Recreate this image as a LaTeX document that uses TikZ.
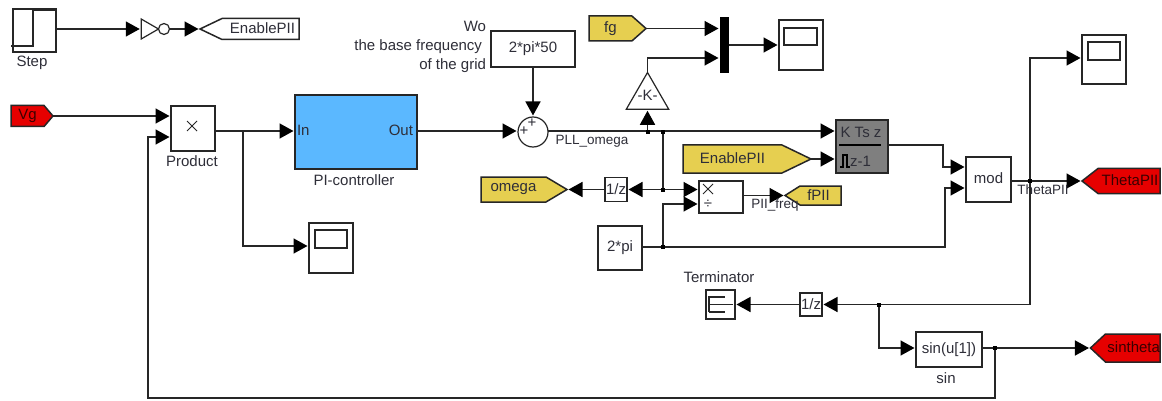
\documentclass[tikz,border=0pt]{standalone}
\usepackage{fontspec}
\setmainfont{Liberation Sans}
\usetikzlibrary{arrows.meta,shapes.geometric,shapes.symbols}
\definecolor{ln}{HTML}{262626}
\definecolor{txt}{HTML}{2E2E38}
\definecolor{simred}{HTML}{E60000}
\definecolor{simgold}{HTML}{E6CF50}
\definecolor{simblue}{HTML}{5BB8FF}
\definecolor{simgray}{HTML}{7F7F7F}
\tikzset{
  every node/.style={font=\fontsize{15}{19}\selectfont,text=txt,inner sep=0pt,outer sep=0pt},
  wire/.style={draw=ln,line width=1.5pt},
  thin wire/.style={draw=ln,line width=1pt},
  arr/.style={wire,-{Triangle[length=14pt,width=15pt,color=black,fill=black]},shorten >=1.5pt},
  blk/.style={draw=ln,line width=1.5pt,fill=white,rectangle,minimum width=#1},
  tag/.style={draw=ln,line width=1.5pt,signal,signal from=nowhere},
  redtag/.style={tag,fill=simred,text=black!75!simred},
  goldtag/.style={tag,fill=simgold},
  whitetag/.style={tag,fill=white},
  dot/.style={fill=black,rectangle,minimum size=4pt},
  lbl/.style={text=txt},
  sig/.style={font=\fontsize{13.5}{16}\selectfont,text=txt}
}
\begin{document}
\begin{tikzpicture}[x=1pt,y=-1pt]
\useasboundingbox[fill=white] (0,0) rectangle (1162,401);

% Step source
\node[blk=43pt,minimum height=43pt] (step) at (34.5,30.5) {};
\draw[wire] (11,46) -- (33,46) -- (33,10) -- (55,10);
\node[lbl] (stepl) at (32,63) {Step};
% NOT
\node[draw=ln,line width=1.2pt,regular polygon,regular polygon sides=3,shape border rotate=-90,minimum size=23pt,fill=white] (inv) at (147,29) {};
\node[draw=ln,line width=1.2pt,circle,minimum size=11pt,fill=white] (invc) at (164,29) {};
\node[whitetag,signal to=west,signal pointer angle=51,minimum width=99pt,minimum height=21pt,anchor=east] (enA) at (299,29) {\hspace{4pt}\raisebox{1pt}{EnablePII}};
\draw[arr] (step.east |- inv.west) -- (inv.west);
\draw[arr] (invc.east) -- (enA.west);

% Vg and product
\node[redtag,signal to=east,signal pointer angle=99,minimum width=42pt,minimum height=21pt,anchor=west] (vg) at (11,116) {\raisebox{1pt}{Vg}};
\node[blk=44pt,minimum height=45pt] (prod) at (193,128.5) {};
\draw[thin wire] (187,121) -- (197,131) (187,131) -- (197,121);
\node[lbl] (prodl) at (192,161) {Product};
\coordinate (prodB) at (171,137);
\draw[arr] (vg.east) -- (prod.west |- vg.east);

% PI controller
\node[blk=122pt,minimum height=74pt,fill=simblue] (pi) at (356,132) {};
\node[lbl,anchor=west] (piin) at (297,130) {In};
\node[lbl,anchor=east] (piout) at (413,130) {Out};
\node[lbl] (pil) at (354,180) {PI-controller};
\draw[arr] (prod.east |- 0,131) -- (pi.west |- 0,131);
\coordinate (jp) at (243,131);

% Scope lower left
\node[blk=44pt,minimum height=50pt] (sc2) at (331,248) {};
\node[draw=ln,line width=1.6pt,minimum width=32pt,minimum height=18pt] (sc2i) at (331,239) {};
\draw[arr] (jp) -- (243,246) -- (sc2.west |- 0,246);

% Sum
\node[draw=ln,line width=1.2pt,circle,minimum size=30pt,fill=white] (sum) at (533,132) {};
\node (sp1) at (532,123) {+};
\node (sp2) at (524,131) {+};
\draw[arr] (pi.east |- 0,131) -- (sum.west |- 0,131);
% constant
\node[blk=84pt,minimum height=36pt] (wo) at (533,49) {\raisebox{1pt}{2*pi*50}};
\node[lbl,align=right,anchor=east] (wol) at (486,47) {Wo\\the base frequency\kern4pt\\of the grid};
\draw[arr] (wo.south) -- (sum.north);
\node[sig] (pllw) at (592,141) {PLL\_omega};

% fg, mux, scope
\node[goldtag,signal to=east,signal pointer angle=83,minimum width=57pt,minimum height=25pt,anchor=west] (fg) at (589,28.5) {\hspace{0pt}\raisebox{1pt}{fg}};
\node[fill=black,minimum width=9pt,minimum height=56pt] (mux) at (724.5,45) {};
\node[blk=44pt,minimum height=50pt] (sc1) at (801,45) {};
\node[draw=ln,line width=1.6pt,minimum width=33pt,minimum height=17pt] (sc1i) at (800.5,36.5) {};
\draw[arr] (fg.east) -- (mux.west |- fg.east);
\draw[arr] (mux.east) -- (sc1.west);
\node[draw=ln,line width=1.2pt,regular polygon,regular polygon sides=3,minimum size=49pt,fill=white] (gain) at (647.5,97) {};
\node (gaink) at (647.5,95) {-K-};
\draw[arr] (gain.north) -- (647.5,58) -- (mux.west |- 0,58);

% discrete integrator
\node[draw=ln,line width=1.5pt,fill=simgray,minimum width=52pt,minimum height=53pt] (dti) at (862,146.5) {};
\node (dtin) at (861,132) {K Ts z};
\draw[draw=black,line width=1.2pt] (839,145) -- (881,145);
\draw[draw=black,line width=1.2pt] (840,167) -- (843,167) -- (843,155) -- (847,155) -- (847,167) -- (850,167);
\node[anchor=west] (dtid) at (850,161) {z-1};
\draw[arr] (sum.east |- 0,131) -- (dti.west |- 0,131);
\node[dot] (j1) at (647.5,132) {};
\node[dot] (j2) at (663,132) {};
\draw[arr] (j1) -- (gain.south);

\node[goldtag,signal to=east,signal pointer angle=51.5,minimum width=128pt,minimum height=28pt,anchor=west] (enB) at (683,159) {\hspace{0pt}\raisebox{1pt}{EnablePII}};
\draw[arr] (enB.east) -- (dti.west |- enB.east);

% 1/z and omega
\node[blk=22pt,minimum height=24pt] (uz1) at (616,189.5) {1/z};
\node[goldtag,signal to=east,signal pointer angle=61.5,minimum width=86pt,minimum height=25pt,anchor=west] (omega) at (481,189.5) {\hspace{0pt}\raisebox{1pt}{omega}};
\node[dot] (j3) at (663,189.5) {};
\draw[wire] (j2) -- (j3);
\node[blk=44pt,minimum height=32pt] (div) at (721,197) {};
\draw[thin wire] (703,184) -- (713,194) (703,194) -- (713,184);
\node (divd) at (708,204) {\fontsize{15}{15}\selectfont ÷};
\draw[arr] (j3) -- (uz1.east |- j3);
\draw[arr] (j3) -- (div.west |- j3);
\draw[arr] (uz1.west) -- (omega.east);

% 2*pi
\node[blk=44pt,minimum height=44pt] (tpi) at (620,248) {\raisebox{1pt}{2*pi}};
\node[dot] (j4) at (663,247) {};
\draw[arr] (j4) -- (663,204) -- (div.west |- 0,204);
\draw[wire] (tpi.east |- j4) -- (j4);

% fPll
\node[goldtag,signal to=west,signal pointer angle=64.7,minimum width=56pt,minimum height=19pt,anchor=east] (fpll) at (841,195.5) {\hspace{-4pt}\raisebox{1pt}{fPII}};
\draw[arr] (div.east |- fpll.west) -- (fpll.west);
\node[sig] (pllf) at (775,205) {PII\_freq};

% mod
\node[blk=45pt,minimum height=45pt] (mod) at (988.5,179.5) {\raisebox{3pt}{mod}};
\draw[arr] (dti.east |- 0,145) -- (943,145) -- (943,167) -- (mod.west |- 0,167);
\draw[arr] (j4) -- (945,247) -- (945,188) -- (mod.west |- 0,188);

% ThetaPll
\node[redtag,signal to=west,signal pointer angle=76,minimum width=78pt,minimum height=25pt,anchor=east] (theta) at (1160,181) {\hspace{2pt}\raisebox{1pt}{ThetaPII}};
\draw[arr] (mod.east |- theta.west) -- (theta.west);
\node[sig] (thetal) at (1043,190) {ThetaPII};
\node[dot] (j5) at (1030,181) {};
% upper scope
\node[blk=44pt,minimum height=49pt] (sc3) at (1104,59.5) {};
\node[draw=ln,line width=1.6pt,minimum width=32pt,minimum height=18pt] (sc3i) at (1104,51) {};
\draw[arr] (j5) -- (1030,58) -- (sc3.west |- 0,58);

% lower path
\node[blk=22pt,minimum height=23pt] (uz2) at (811,304.5) {1/z};
\node[blk=29pt,minimum height=29pt] (term) at (720.5,304.5) {};
\draw[wire] (709,312) -- (709,297) -- (725,297);
\draw[wire] (709,304.5) -- (733,304.5);
\draw[wire] (709,312) -- (725,312);
\node[lbl] (terml) at (719,277) {Terminator};
\node[dot] (j6) at (879,304.5) {};
\draw[wire] (j5) -- (1030,304.5) -- (j6);
\draw[arr] (j6) -- (uz2.east |- j6);
\draw[arr] (uz2.west) -- (term.east);
\node[blk=66pt,minimum height=35pt] (sinb) at (949,349.5) {\raisebox{1pt}{sin(u[1])}};
\node[lbl] (sinl) at (946,378) {sin};
\draw[arr] (j6) -- (879,348) -- (sinb.west |- 0,348);
\node[redtag,signal to=west,signal pointer angle=86,minimum width=63pt,minimum height=28pt,anchor=east] (sint) at (1160,348) {\hspace{2pt}\raisebox{1pt}{sintheta}};
\draw[arr] (sinb.east |- sint.west) -- (sint.west);
\node[dot] (j7) at (995,348) {};
\draw[arr] (j7) -- (995,398) -- (148,398) -- (148,137) -- (prodB);
\end{tikzpicture}
\end{document}
